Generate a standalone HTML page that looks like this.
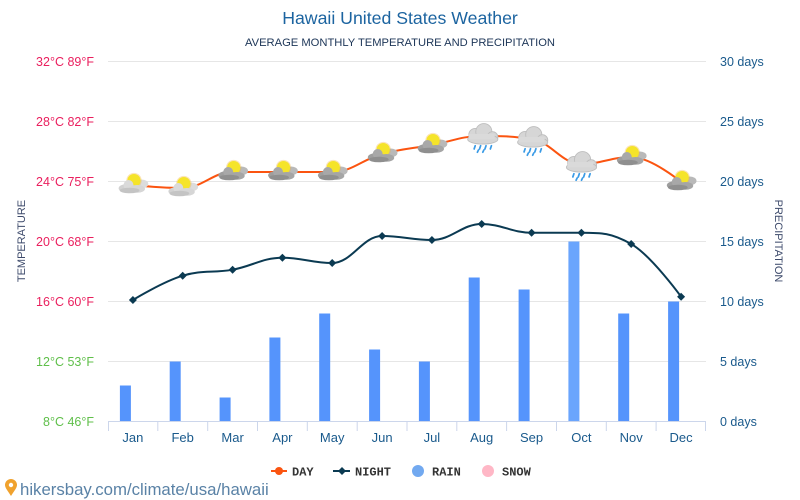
<!DOCTYPE html>
<html><head><meta charset="utf-8"><style>
html,body{margin:0;padding:0;background:#fff;}
svg{display:block;font-family:"Liberation Sans",sans-serif;}
</style></head><body>
<svg width="800" height="500" viewBox="0 0 800 500" xmlns="http://www.w3.org/2000/svg">
<defs>
<g id="sc0">
  <ellipse cx="8" cy="-1" rx="6" ry="4" fill="#b9b9b9"/>
  <circle cx="1" cy="-4" r="7" fill="#f3b23a" opacity="0.35"/>
  <circle cx="1" cy="-4" r="6" fill="#f5e42a"/>
  <ellipse cx="-5" cy="3" rx="8" ry="4" fill="#9e9e9e"/>
  <circle cx="-4" cy="0" r="4.5" fill="#a8a8a8"/>
  <ellipse cx="4" cy="3.5" rx="7" ry="3.5" fill="#a5a5a5"/>
  <ellipse cx="-3" cy="5" rx="9" ry="2.5" fill="#8f8f8f"/>
</g>
<g id="sc"><use href="#sc0" transform="scale(1.1)"/></g>
<g id="scl0">
  <ellipse cx="8" cy="-1" rx="6" ry="4" fill="#dcdcdc"/>
  <circle cx="1" cy="-4" r="7" fill="#f3b23a" opacity="0.35"/>
  <circle cx="1" cy="-4" r="6" fill="#f5e42a"/>
  <ellipse cx="-5" cy="3" rx="8" ry="4" fill="#d2d2d2"/>
  <circle cx="-4" cy="0" r="4.5" fill="#dadada"/>
  <ellipse cx="4" cy="3.5" rx="7" ry="3.5" fill="#d6d6d6"/>
  <ellipse cx="-3" cy="5" rx="9" ry="2.5" fill="#c4c4c4"/>
</g>
<g id="scl"><use href="#scl0" transform="scale(1.1)"/></g>
<g id="rn0">
  <circle cx="-6" cy="-1" r="6" fill="#d6d6d6" stroke="#bdbdbd" stroke-width="0.8"/>
  <circle cx="2" cy="-4" r="7.5" fill="#d6d6d6" stroke="#bdbdbd" stroke-width="0.8"/>
  <circle cx="10" cy="1" r="5" fill="#d6d6d6" stroke="#bdbdbd" stroke-width="0.8"/>
  <ellipse cx="1" cy="3" rx="14" ry="4.5" fill="#d6d6d6" stroke="#bdbdbd" stroke-width="0.8"/>
  <rect x="-12" y="-2" width="24" height="5" fill="#dadada"/>
  <path d="M-6 9l-1 3M-1 9l-1 3M4 9l-1 3M9 9l-1 3M-3 13l-1 2M2 13l-1 2" stroke="#3a9be6" stroke-width="1.6" stroke-linecap="round"/>
</g>
<g id="rn"><use href="#rn0" transform="scale(1.08)"/></g>
</defs>
<rect width="800" height="500" fill="#fff"/>

<text x="400" y="24" text-anchor="middle" font-size="17.7" fill="#1c64a0">Hawaii United States Weather</text>
<text x="400" y="46" text-anchor="middle" font-size="11.2" fill="#1c3557">AVERAGE MONTHLY TEMPERATURE AND PRECIPITATION</text>

<g stroke="#e6e6e6" stroke-width="1">
<line x1="108" y1="61.5" x2="706" y2="61.5"/>
<line x1="108" y1="121.5" x2="706" y2="121.5"/>
<line x1="108" y1="181.5" x2="706" y2="181.5"/>
<line x1="108" y1="241.5" x2="706" y2="241.5"/>
<line x1="108" y1="301.5" x2="706" y2="301.5"/>
<line x1="108" y1="361.5" x2="706" y2="361.5"/>
</g>

<g font-size="12.5" text-anchor="end">
<text x="94" y="66" fill="#ea1f5e">32°C 89°F</text>
<text x="94" y="126" fill="#ea1f5e">28°C 82°F</text>
<text x="94" y="186" fill="#ea1f5e">24°C 75°F</text>
<text x="94" y="246" fill="#ea1f5e">20°C 68°F</text>
<text x="94" y="306" fill="#ea1f5e">16°C 60°F</text>
<text x="94" y="366" fill="#5fbf4a">12°C 53°F</text>
<text x="94" y="426" fill="#5fbf4a">8°C 46°F</text>
</g>
<g font-size="12.5" fill="#1a5a8c">
<text x="720" y="66">30 days</text>
<text x="720" y="126">25 days</text>
<text x="720" y="186">20 days</text>
<text x="720" y="246">15 days</text>
<text x="720" y="306">10 days</text>
<text x="720" y="366">5 days</text>
<text x="720" y="426">0 days</text>
</g>
<text transform="translate(25,241) rotate(-90)" text-anchor="middle" font-size="11" fill="#3d4a6b">TEMPERATURE</text>
<text transform="translate(775,241) rotate(90)" text-anchor="middle" font-size="11" fill="#3d4a6b">PRECIPITATION</text>

<g fill="#5594fc">
<rect x="119.9" y="385.5" width="11" height="36"/>
<rect x="169.7" y="361.5" width="11" height="60"/>
<rect x="219.6" y="397.5" width="11" height="24"/>
<rect x="269.4" y="337.5" width="11" height="84"/>
<rect x="319.2" y="313.5" width="11" height="108"/>
<rect x="369.1" y="349.5" width="11" height="72"/>
<rect x="418.9" y="361.5" width="11" height="60"/>
<rect x="468.7" y="277.5" width="11" height="144"/>
<rect x="518.6" y="289.5" width="11" height="132"/>
<rect x="568.4" y="241.5" width="11" height="180" fill="#6aa5fd"/>
<rect x="618.2" y="313.5" width="11" height="108"/>
<rect x="668.1" y="301.5" width="11" height="120"/>
</g>

<line x1="108" y1="421.5" x2="706" y2="421.5" stroke="#ccd6eb" stroke-width="1"/>
<g stroke="#ccd6eb" stroke-width="1">
<line x1="108.5" y1="421" x2="108.5" y2="431"/>
<line x1="157.8" y1="421" x2="157.8" y2="431"/>
<line x1="207.7" y1="421" x2="207.7" y2="431"/>
<line x1="257.5" y1="421" x2="257.5" y2="431"/>
<line x1="307.3" y1="421" x2="307.3" y2="431"/>
<line x1="357.2" y1="421" x2="357.2" y2="431"/>
<line x1="407" y1="421" x2="407" y2="431"/>
<line x1="456.8" y1="421" x2="456.8" y2="431"/>
<line x1="506.6" y1="421" x2="506.6" y2="431"/>
<line x1="556.5" y1="421" x2="556.5" y2="431"/>
<line x1="606.3" y1="421" x2="606.3" y2="431"/>
<line x1="656.1" y1="421" x2="656.1" y2="431"/>
<line x1="705.5" y1="421" x2="705.5" y2="431"/>
</g>
<g font-size="13" fill="#1a5a8c" text-anchor="middle">
<text x="132.9" y="442">Jan</text>
<text x="182.7" y="442">Feb</text>
<text x="232.6" y="442">Mar</text>
<text x="282.4" y="442">Apr</text>
<text x="332.2" y="442">May</text>
<text x="382.1" y="442">Jun</text>
<text x="431.9" y="442">Jul</text>
<text x="481.7" y="442">Aug</text>
<text x="531.6" y="442">Sep</text>
<text x="581.4" y="442">Oct</text>
<text x="631.2" y="442">Nov</text>
<text x="681.1" y="442">Dec</text>
</g>

<path fill="none" stroke="#0b3a52" stroke-width="2" d="M132.9,300 C132.9,300 162.8,281.7 182.7,275.7 C202.6,269.7 212.7,273.3 232.6,269.7 C252.5,266.1 262.5,257.7 282.4,257.7 C302.3,257.7 312.3,263 332.2,263 C352.1,263 362.2,236 382.1,236 C402,236 412,240 431.9,240 C451.8,240 461.8,224 481.7,224 C501.6,224 511.7,232.7 531.6,232.7 C551.5,232.7 561.5,232.7 581.4,232.7 C601.3,232.7 611.3,232.7 631.2,244 C651.1,255.3 681.1,296.7 681.1,296.7"/>
<g fill="#0b3a52">
<path d="M132.9,296 l4,4 l-4,4 l-4,-4z"/>
<path d="M182.7,271.7 l4,4 l-4,4 l-4,-4z"/>
<path d="M232.6,265.7 l4,4 l-4,4 l-4,-4z"/>
<path d="M282.4,253.7 l4,4 l-4,4 l-4,-4z"/>
<path d="M332.2,259 l4,4 l-4,4 l-4,-4z"/>
<path d="M382.1,232 l4,4 l-4,4 l-4,-4z"/>
<path d="M431.9,236 l4,4 l-4,4 l-4,-4z"/>
<path d="M481.7,220 l4,4 l-4,4 l-4,-4z"/>
<path d="M531.6,228.7 l4,4 l-4,4 l-4,-4z"/>
<path d="M581.4,228.7 l4,4 l-4,4 l-4,-4z"/>
<path d="M631.2,240 l4,4 l-4,4 l-4,-4z"/>
<path d="M681.1,292.7 l4,4 l-4,4 l-4,-4z"/>
</g>

<path fill="none" stroke="#fb5410" stroke-width="2" d="M132.9,185 C132.9,185 162.8,188 182.7,188 C202.6,188 212.7,172 232.6,172 C252.5,172 262.5,172 282.4,172 C302.3,172 312.3,172 332.2,172 C352.1,172 362.2,159.4 382.1,154 C402,148.6 412,148.6 431.9,145 C451.8,141.4 461.8,136 481.7,136 C501.6,136 511.7,136 531.6,139 C551.5,142 561.5,164 581.4,164 C601.3,164 611.3,157 631.2,157 C651.1,157 681.1,182 681.1,182"/>

<use href="#scl" x="132.9" y="185"/>
<use href="#scl" x="182.7" y="188"/>
<use href="#sc" x="232.6" y="172"/>
<use href="#sc" x="282.4" y="172"/>
<use href="#sc" x="332.2" y="172"/>
<use href="#sc" x="382.1" y="154"/>
<use href="#sc" x="431.9" y="145"/>
<use href="#rn" x="481.7" y="136"/>
<use href="#rn" x="531.6" y="139"/>
<use href="#rn" x="580.4" y="164"/>
<use href="#sc" x="631.2" y="157"/>
<use href="#sc" x="681.1" y="182"/>

<g font-family="Liberation Mono, monospace" font-weight="bold" font-size="12" fill="#333">
<line x1="271" y1="471" x2="287" y2="471" stroke="#fb5410" stroke-width="2"/>
<circle cx="279" cy="471" r="4" fill="#fb5410"/>
<text x="292" y="475.5">DAY</text>
<line x1="333" y1="471" x2="350" y2="471" stroke="#0b3a52" stroke-width="2"/>
<path d="M342,467 l4,4 l-4,4 l-4,-4z" fill="#0b3a52"/>
<text x="355" y="475.5">NIGHT</text>
<circle cx="418" cy="471" r="6" fill="#72a9f0"/>
<text x="432" y="475.5">RAIN</text>
<circle cx="488" cy="471" r="6" fill="#ffb7c6"/>
<text x="502" y="475.5">SNOW</text>
</g>

<path d="M11,496 C8,491 5,488 5,485 A6,6 0 0 1 17,485 C17,488 14,491 11,496Z" fill="#f0a22e"/>
<circle cx="11" cy="485" r="2.2" fill="#fff"/>
<text x="20" y="495" font-size="16.8" fill="#5a82a6">hikersbay.com/climate/usa/hawaii</text>
</svg>
</body></html>
